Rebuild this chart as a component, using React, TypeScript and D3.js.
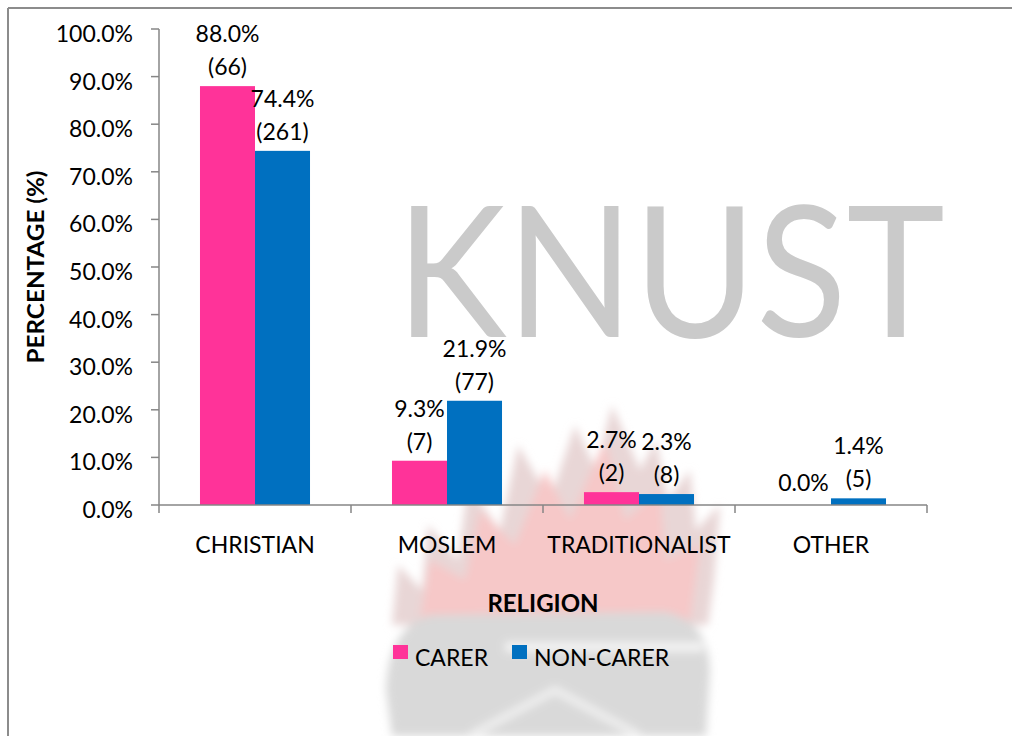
import * as d3 from "d3";

// religion of respondents, carer vs non-carer
const categories = ["CHRISTIAN", "MOSLEM", "TRADITIONALIST", "OTHER"];
const seriesNames = ["CARER", "NON-CARER"];
const carerPct = [88.0, 9.3, 2.7, 0.0];
const carerCount: (number | null)[] = [66, 7, 2, null];
const nonCarerPct = [74.4, 21.9, 2.3, 1.4];
const nonCarerCount: (number | null)[] = [261, 77, 8, 5];
const yTicks = [0, 10, 20, 30, 40, 50, 60, 70, 80, 90, 100];

const colors = ["#FF3399", "#0070C0"];
const FONT = "Lato, 'Open Sans', sans-serif";
const FS = 23;

const W = 1012;
const H = 736;
const margin = { top: 29, left: 159, right: 85, bottom: 231 };

export default function App() {
  const x0 = d3
    .scaleBand<string>()
    .domain(categories)
    .range([margin.left, W - margin.right])
    .padding(0);
  const x1 = d3
    .scaleBand<string>()
    .domain(seriesNames)
    .range([0, x0.bandwidth()])
    .paddingInner(0)
    .paddingOuter(0.745);
  const y = d3
    .scaleLinear()
    .domain([0, 100])
    .range([H - margin.bottom, margin.top]);

  const series = [
    { name: seriesNames[0], pct: carerPct, count: carerCount, color: colors[0] },
    { name: seriesNames[1], pct: nonCarerPct, count: nonCarerCount, color: colors[1] },
  ];

  const y0 = y(0);
  const xEnd = W - margin.right;
  const axisCol = "#868686";

  return (
    <svg
      width={W}
      height={H}
      style={{ position: "absolute", left: 0, top: 0, background: "#fff" }}
      fontFamily={FONT}
    >
      <defs>
        <filter id="soft" x="-10%" y="-10%" width="120%" height="120%">
          <feGaussianBlur stdDeviation="4" />
        </filter>
      </defs>

      {/* watermark */}
      <g filter="url(#soft)">
        <path
          d="M392,625 L398,565 L422,590 L428,525 L458,560 L468,485 L500,530 L518,445 L550,500 L575,425 L596,470 L612,405 L640,470 L656,440 L668,500 L690,470 L696,530 L720,505 L714,580 L708,625 Z"
          fill="#e8d6d6"
        />
        <path
          d="M420,620 L430,560 L465,580 L480,510 L515,545 L545,470 L570,520 L605,440 L625,520 L660,490 L665,560 L700,545 L690,620 Z"
          fill="#f6c8c8"
        />
        <path
          d="M392,736 L386,690 Q388,628 430,615 L665,612 Q708,620 710,670 L706,736 Z"
          fill="#d9d9d9"
        />
        <rect x={505} y={642} width={198} height={10} fill="#f3f3f3" />
        <path d="M470,736 L555,690 L640,736" fill="none" stroke="#efefef" strokeWidth={8} />
      </g>
      <text
        x={396}
        y={337}
        fontSize={183}
        fontWeight={400}
        fill="#cacaca"
        textLength={549}
        lengthAdjust="spacingAndGlyphs"
      >
        KNUST
      </text>

      {/* outer border */}
      <line x1={8} y1={8} x2={W} y2={8} stroke="#8c8c8c" strokeWidth={2} />
      <line x1={8} y1={8} x2={8} y2={H} stroke="#8c8c8c" strokeWidth={2} />

      {/* y axis */}
      <line x1={margin.left} x2={margin.left} y1={y(100)} y2={y0} stroke={axisCol} strokeWidth={1.5} />
      {yTicks.map((t) => (
        <g key={t}>
          <line x1={margin.left - 8} x2={margin.left} y1={y(t)} y2={y(t)} stroke={axisCol} strokeWidth={1.5} />
          <text x={133} y={y(t) + 13} textAnchor="end" fontSize={FS} fill="#000">
            {t.toFixed(1) + "%"}
          </text>
        </g>
      ))}
      <text
        transform={`translate(44,${(y(100) + y0) / 2}) rotate(-90)`}
        textAnchor="middle"
        fontSize={23}
        fontWeight={700}
        fill="#000"
        textLength={193}
        lengthAdjust="spacingAndGlyphs"
      >
        PERCENTAGE (%)
      </text>

      {/* bars */}
      {series.map((s) =>
        categories.map((c, i) => (
          <rect
            key={s.name + c}
            x={x0(c)! + x1(s.name)!}
            y={y(s.pct[i])}
            width={x1.bandwidth()}
            height={y0 - y(s.pct[i])}
            fill={s.color}
          />
        ))
      )}

      {/* data labels */}
      {series.map((s) =>
        categories.map((c, i) => {
          const cx = x0(c)! + x1(s.name)! + x1.bandwidth() / 2;
          const top = y(s.pct[i]);
          const cnt = s.count[i];
          return (
            <g key={"l" + s.name + c} fontSize={FS} fill="#000" textAnchor="middle">
              {cnt === null ? (
                <text x={cx} y={top - 14}>{s.pct[i].toFixed(1) + "%"}</text>
              ) : (
                <>
                  <text x={cx} y={top - 44}>{s.pct[i].toFixed(1) + "%"}</text>
                  <text x={cx} y={top - 11}>{"(" + cnt + ")"}</text>
                </>
              )}
            </g>
          );
        })
      )}

      {/* x axis */}
      <line x1={margin.left} x2={xEnd} y1={y0} y2={y0} stroke={axisCol} strokeWidth={1.5} />
      {[...categories.map((c) => x0(c)!), xEnd].map((t, i) => (
        <line key={"xt" + i} x1={t} x2={t} y1={y0} y2={y0 + 8} stroke={axisCol} strokeWidth={1.5} />
      ))}
      {categories.map((c) => (
        <text key={"xl" + c} x={x0(c)! + x0.bandwidth() / 2} y={553} textAnchor="middle" fontSize={FS} fill="#000">
          {c}
        </text>
      ))}
      <text x={(margin.left + xEnd) / 2} y={612} textAnchor="middle" fontSize={24} fontWeight={700} fill="#000">
        RELIGION
      </text>

      {/* legend */}
      {series.map((s, i) => {
        const lx = [393, 512][i];
        return (
          <g key={"lg" + s.name}>
            <rect x={lx} y={645} width={15} height={14} fill={s.color} />
            <text x={lx + 22} y={666} fontSize={FS} fill="#000">
              {s.name}
            </text>
          </g>
        );
      })}
    </svg>
  );
}
